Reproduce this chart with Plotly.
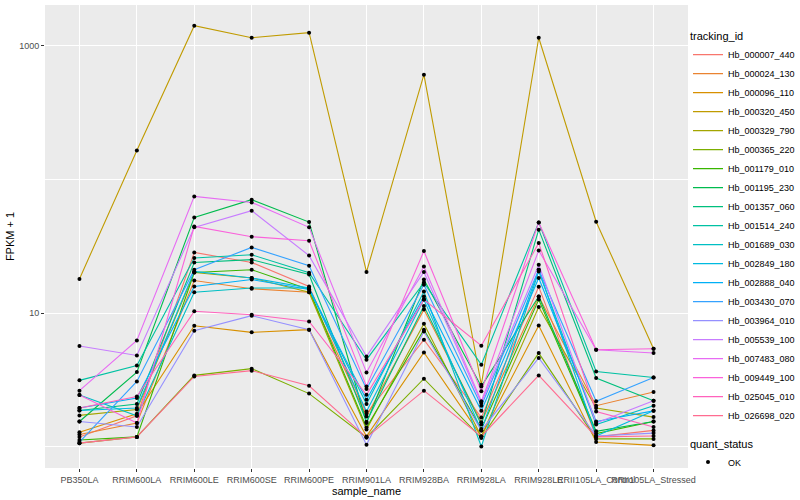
import plotly.graph_objects as go

samples = ["PB350LA", "RRIM600LA", "RRIM600LE", "RRIM600SE", "RRIM600PE",
           "RRIM901LA", "RRIM928BA", "RRIM928LA", "RRIM928LE",
           "RRII105LA_Control", "RRII105LA_Stressed"]

tracking_ids = ["Hb_000007_440", "Hb_000024_130", "Hb_000096_110", "Hb_000320_450",
                "Hb_000329_790", "Hb_000365_220", "Hb_001179_010", "Hb_001195_230",
                "Hb_001357_060", "Hb_001514_240", "Hb_001689_030", "Hb_002849_180",
                "Hb_002888_040", "Hb_003430_070", "Hb_003964_010", "Hb_005539_100",
                "Hb_007483_080", "Hb_009449_100", "Hb_025045_010", "Hb_026698_020"]

colors = ["#F8766D", "#EA8331", "#D89000", "#C09B00", "#A3A500", "#7CAE00", "#39B600",
          "#00BB4E", "#00BF7D", "#00C1A3", "#00BFC4", "#00BAE0", "#00B0F6", "#35A2FF",
          "#9590FF", "#C77CFF", "#E76BF3", "#FA62DB", "#FF62BC", "#FF6C91"]

# FPKM + 1 per tracking_id, in sample order
fpkm = {
    "Hb_000007_440": [1.18, 1.70, 28.4, 23.9, 15.8, 1.76, 6.31, 1.65, 15.7, 1.18, 1.32],
    "Hb_000024_130": [1.23, 1.50, 17.5, 15.2, 14.3, 1.68, 10.6, 1.52, 13.3, 2.02, 2.56],
    "Hb_000096_110": [1.28, 1.76, 8.03, 7.16, 7.50, 1.19, 5.07, 1.19, 8.07, 1.08, 1.02],
    "Hb_000320_450": [18.0, 165, 1420, 1153, 1259, 20.3, 610, 2.90, 1153, 48.3, 5.40],
    "Hb_000329_790": [1.71, 1.89, 20.1, 18.3, 14.3, 1.34, 8.31, 1.19, 11.1, 1.94, 1.66],
    "Hb_000365_220": [1.06, 1.18, 3.41, 3.83, 2.49, 1.17, 3.22, 1.16, 5.01, 1.14, 1.14],
    "Hb_001179_010": [1.12, 1.18, 20.1, 21.1, 15.0, 1.39, 7.50, 1.35, 12.6, 1.25, 1.54],
    "Hb_001195_230": [1.54, 3.61, 52.0, 70.6, 48.0, 1.50, 17.8, 2.82, 13.3, 1.30, 1.54],
    "Hb_001357_060": [1.86, 2.08, 23.9, 25.1, 19.4, 1.53, 11.3, 1.46, 42.1, 3.26, 2.20],
    "Hb_001514_240": [3.13, 4.05, 25.8, 27.3, 20.0, 4.47, 16.9, 4.10, 47.7, 3.65, 3.29],
    "Hb_001689_030": [2.43, 1.70, 14.3, 15.4, 15.4, 2.08, 14.5, 1.00, 20.5, 1.46, 2.02],
    "Hb_002849_180": [1.86, 1.94, 20.5, 18.3, 15.4, 1.83, 12.6, 1.32, 21.1, 1.20, 1.85],
    "Hb_002888_040": [1.94, 2.31, 15.8, 17.8, 15.0, 2.24, 13.3, 1.85, 18.3, 1.54, 1.85],
    "Hb_003430_070": [1.08, 3.07, 21.1, 31.0, 22.6, 2.70, 16.3, 2.02, 21.1, 2.18, 3.29],
    "Hb_003964_010": [1.54, 1.40, 7.37, 9.55, 7.50, 1.03, 7.28, 1.32, 4.60, 1.20, 1.26],
    "Hb_005539_100": [5.66, 4.81, 43.8, 58.4, 26.9, 4.73, 20.3, 2.12, 23.0, 1.50, 2.20],
    "Hb_007483_080": [2.62, 6.23, 74.7, 67.3, 43.8, 3.59, 22.3, 2.18, 29.4, 5.31, 5.01],
    "Hb_009449_100": [2.43, 1.50, 44.5, 37.3, 34.8, 2.82, 29.1, 2.59, 47.7, 5.31, 5.40],
    "Hb_025045_010": [1.94, 2.37, 10.3, 9.70, 8.65, 2.44, 12.6, 5.69, 33.4, 1.83, 1.40],
    "Hb_026698_020": [1.06, 1.18, 3.35, 3.70, 2.85, 1.17, 2.62, 1.19, 3.41, 1.18, 1.20],
}

y_tickvals = [10, 1000]
y_ticktext = ["10", "1000"]
y_minorvals = [1, 100]

fig = go.Figure()

for tid, col in zip(tracking_ids, colors):
    fig.add_trace(go.Scatter(
        x=samples, y=fpkm[tid], mode="lines", name=tid,
        line=dict(color=col, width=1.1), legend="legend",
        hoverinfo="skip"))

all_x = []
all_y = []
for tid in tracking_ids:
    all_x += samples
    all_y += fpkm[tid]
fig.add_trace(go.Scatter(
    x=all_x, y=all_y, mode="markers", name="OK",
    marker=dict(color="black", size=4), legend="legend2"))

fig.update_layout(
    width=800, height=500,
    margin=dict(l=45, r=112, t=5, b=32, autoexpand=False),
    paper_bgcolor="white", plot_bgcolor="#EBEBEB",
    font=dict(family="Liberation Sans, Arial, sans-serif", size=9, color="#4D4D4D"),
    xaxis=dict(
        type="category", categoryorder="array", categoryarray=samples,
        range=[-0.6, len(samples) - 0.4],
        showgrid=True, gridcolor="white", gridwidth=1.1,
        ticks="outside", ticklen=3, tickcolor="#333333", tickwidth=1,
        tickangle=0, tickfont=dict(size=9, color="#4D4D4D"),
        title=dict(text="sample_name", font=dict(size=11, color="black"), standoff=0),
        automargin=False, zeroline=False, showline=False),
    yaxis=dict(
        type="log", range=[-0.161, 3.307],
        tickmode="array", tickvals=y_tickvals, ticktext=y_ticktext,
        showgrid=True, gridcolor="white", gridwidth=1.1,
        ticks="outside", ticklen=3, tickcolor="#333333", tickwidth=1,
        tickfont=dict(size=9, color="#4D4D4D"),
        minor=dict(tickmode="array", tickvals=y_minorvals, showgrid=True,
                   gridcolor="white", gridwidth=0.55, ticks=""),
        title=dict(text="FPKM + 1", font=dict(size=11, color="black"), standoff=2),
        automargin=False, zeroline=False, showline=False),
    legend=dict(
        title=dict(text="tracking_id", font=dict(size=11, color="black")),
        x=1.0, xanchor="left", y=0.955, yanchor="top",
        font=dict(size=9, color="black"), bgcolor="rgba(0,0,0,0)",
        tracegroupgap=0, itemwidth=30),
    legend2=dict(
        title=dict(text="quant_status", font=dict(size=11, color="black")),
        x=1.0, xanchor="left", y=0.075, yanchor="top",
        font=dict(size=9, color="black"), bgcolor="rgba(0,0,0,0)", itemwidth=30),
)

fig.write_html("out.html", config={"displayModeBar": False},
               post_script="document.body.style.margin='0px';document.body.style.overflow='hidden';")
